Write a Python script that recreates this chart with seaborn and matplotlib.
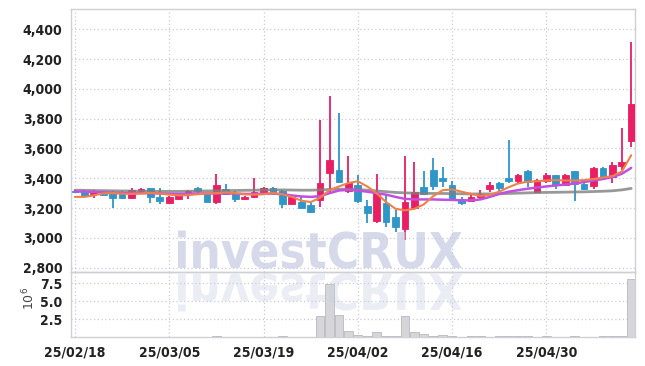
import numpy as np
import pandas as pd
import seaborn as sns
import matplotlib.pyplot as plt
from matplotlib import font_manager
from matplotlib.textpath import TextPath
from matplotlib.patches import PathPatch
from matplotlib.font_manager import FontProperties
from matplotlib.transforms import Affine2D
from matplotlib.ticker import FuncFormatter

# trading days (yy/mm/dd)
dates = ['25/02/18', '25/02/19', '25/02/20', '25/02/21', '25/02/24', '25/02/25', '25/02/26', '25/02/27', '25/02/28', '25/03/04',
         '25/03/05', '25/03/06', '25/03/07', '25/03/10', '25/03/11', '25/03/12', '25/03/13', '25/03/14', '25/03/17', '25/03/18',
         '25/03/19', '25/03/20', '25/03/21', '25/03/24', '25/03/25', '25/03/26', '25/03/27', '25/03/28', '25/03/31', '25/04/01',
         '25/04/02', '25/04/03', '25/04/04', '25/04/07', '25/04/08', '25/04/09', '25/04/10', '25/04/11', '25/04/14', '25/04/15',
         '25/04/16', '25/04/17', '25/04/18', '25/04/21', '25/04/22', '25/04/23', '25/04/24', '25/04/25', '25/04/28', '25/04/29',
         '25/04/30', '25/05/02', '25/05/07', '25/05/08', '25/05/09', '25/05/12', '25/05/13', '25/05/14', '25/05/15', '25/05/16']

open_ = [3312, 3315, 3295, 3306, 3310, 3306, 3270, 3299, 3333, 3273,
         3237, 3259, 3299, 3337, 3293, 3241, 3328, 3299, 3261, 3273,
         3295, 3335, 3315, 3230, 3243, 3221, 3254, 3434, 3456, 3317,
         3355, 3214, 3111, 3232, 3138, 3058, 3199, 3344, 3456, 3400,
         3355, 3259, 3246, 3277, 3328, 3371, 3402, 3384, 3447, 3310,
         3384, 3422, 3355, 3449, 3362, 3350, 3471, 3411, 3483, 3652]
high = [3318, 3318, 3320, 3310, 3312, 3315, 3333, 3335, 3335, 3333,
        3278, 3300, 3318, 3342, 3300, 3429, 3362, 3317, 3282, 3400,
        3342, 3344, 3318, 3278, 3275, 3243, 3791, 3952, 3836, 3550,
        3422, 3254, 3427, 3288, 3187, 3550, 3511, 3451, 3534, 3478,
        3380, 3275, 3285, 3318, 3377, 3377, 3657, 3430, 3455, 3395,
        3435, 3425, 3428, 3452, 3380, 3475, 3475, 3511, 3735, 4317]
low = [3300, 3280, 3266, 3281, 3199, 3262, 3259, 3296, 3236, 3230,
       3232, 3255, 3261, 3300, 3238, 3226, 3288, 3239, 3255, 3270,
       3290, 3285, 3199, 3225, 3200, 3170, 3205, 3310, 3370, 3303,
       3232, 3098, 3100, 3071, 3042, 2985, 3195, 3290, 3322, 3344,
       3250, 3222, 3238, 3255, 3310, 3315, 3370, 3370, 3340, 3305,
       3366, 3328, 3345, 3248, 3318, 3325, 3405, 3366, 3456, 3608]
close = [3308, 3283, 3317, 3290, 3270, 3270, 3322, 3326, 3273, 3250,
         3273, 3293, 3315, 3315, 3241, 3355, 3293, 3261, 3277, 3308,
         3335, 3308, 3230, 3273, 3203, 3172, 3366, 3523, 3377, 3371,
         3250, 3169, 3299, 3109, 3075, 3241, 3306, 3295, 3348, 3384,
         3254, 3232, 3273, 3295, 3355, 3337, 3384, 3422, 3373, 3389,
         3422, 3355, 3422, 3360, 3328, 3471, 3411, 3489, 3507, 3899]

# volume, millions of shares
volume = [0.03, 0.03, 0.03, 0.03, 0.04, 0.03, 0.03, 0.03, 0.04, 0.03,
          0.03, 0.03, 0.03, 0.03, 0.04, 0.12, 0.04, 0.03, 0.03, 0.04,
          0.04, 0.03, 0.09, 0.03, 0.04, 0.05, 2.9, 7.4, 3.0, 0.85,
          0.25, 0.1, 0.7, 0.1, 0.12, 2.9, 0.72, 0.4, 0.12, 0.22,
          0.08, 0.06, 0.08, 0.07, 0.06, 0.07, 0.15, 0.08, 0.07, 0.06,
          0.07, 0.06, 0.06, 0.1, 0.06, 0.06, 0.08, 0.07, 0.2, 8.05]

ma5 = [3275, 3275, 3285, 3298, 3300, 3297, 3295, 3298, 3302, 3298,
       3290, 3285, 3287, 3293, 3297, 3300, 3305, 3300, 3293, 3290,
       3293, 3300, 3293, 3275, 3250, 3240, 3270, 3320, 3345, 3368,
       3380, 3345, 3300, 3240, 3195, 3185, 3195, 3225, 3280, 3320,
       3325, 3310, 3295, 3282, 3288, 3310, 3340, 3365, 3377, 3380,
       3385, 3388, 3385, 3385, 3388, 3395, 3405, 3415, 3445, 3555]
ma20 = [3312, 3310, 3308, 3305, 3303, 3300, 3300, 3300, 3300, 3298,
        3296, 3295, 3296, 3298, 3298, 3298, 3298, 3297, 3295, 3295,
        3296, 3297, 3293, 3285, 3278, 3275, 3280, 3300, 3318, 3322,
        3318, 3310, 3300, 3290, 3275, 3262, 3258, 3258, 3258, 3256,
        3255, 3252, 3252, 3258, 3275, 3295, 3310, 3320, 3330, 3338,
        3345, 3352, 3358, 3365, 3375, 3385, 3395, 3408, 3430, 3470]
ma60 = [3320, 3319, 3318, 3317, 3316, 3315, 3314, 3313, 3312, 3312,
        3312, 3312, 3313, 3314, 3315, 3316, 3317, 3318, 3319, 3320,
        3321, 3322, 3322, 3321, 3320, 3320, 3322, 3325, 3327, 3327,
        3325, 3320, 3315, 3310, 3305, 3302, 3300, 3299, 3298, 3298,
        3297, 3296, 3295, 3295, 3295, 3296, 3298, 3300, 3302, 3304,
        3305, 3306, 3307, 3308, 3309, 3311, 3313, 3316, 3322, 3332]

df = pd.DataFrame({'date': dates, 'open': open_, 'high': high, 'low': low,
                   'close': close, 'volume': volume,
                   'ma5': ma5, 'ma20': ma20, 'ma60': ma60})
df['i'] = np.arange(len(df))

UP = '#e91e63'
DOWN = '#2f96c8'
GRID = '#c9cbdc'

sns.set_style('white')

# pick a narrow face for the tick labels if one is installed
names = {f.name for f in font_manager.fontManager.ttflist}
narrow = [f for f in font_manager.fontManager.ttflist
          if f.name == 'DejaVu Sans' and 'ondensed' in str(f.stretch) + f.fname]
if 'Liberation Sans Narrow' in names:
    tick_kw = dict(family='Liberation Sans Narrow', fontsize=11, fontweight='bold')
elif narrow:
    tick_kw = dict(family='DejaVu Sans', fontstretch='condensed', fontsize=10, fontweight='bold')
else:
    tick_kw = dict(family='Roboto', fontsize=10, fontweight='bold')

fig = plt.figure(figsize=(6.45, 3.66), dpi=100)
W, H = 645, 366
ax = fig.add_axes([71 / W, 1 - 272 / H, (635 - 71) / W, (272 - 9) / H])
ax2 = fig.add_axes([71 / W, 1 - 337 / H, (635 - 71) / W, (337 - 272) / H])

# watermark + reflection
tp = TextPath((0, 0), 'investCRUX', size=1, prop=FontProperties(family='DejaVu Sans', weight='bold'))
bb = tp.get_extents()
sx = 284 / bb.width
sy = 36 / 0.73
x0 = 178 - bb.x0 * sx
fig.add_artist(PathPatch(tp, transform=Affine2D().scale(sx, sy).translate(x0, H - 268),
                         facecolor='#c8cde2', edgecolor='none', alpha=0.75, zorder=0.5))
fig.add_artist(PathPatch(tp, transform=Affine2D().scale(sx, -sy).translate(x0, H - 274),
                         facecolor='#c8cde2', edgecolor='none', alpha=0.35, zorder=0.5))

# candles
colors = np.where(df['close'] >= df['open'], UP, DOWN)
ax.vlines(df['i'], df['low'], df['high'], colors=colors, lw=1.3, zorder=3)
ax.bar(df['i'], (df['close'] - df['open']).abs().clip(lower=3),
       bottom=df[['open', 'close']].min(axis=1), width=0.72,
       color=colors, edgecolor=colors, lw=0.6, zorder=4)

# moving averages
sns.lineplot(x=df['i'], y=df['ma60'], ax=ax, color='#7f7f7f', lw=2.0, alpha=0.8, zorder=5)
sns.lineplot(x=df['i'], y=df['ma20'], ax=ax, color='#c24fe0', lw=1.8, zorder=6)
sns.lineplot(x=df['i'], y=df['ma5'], ax=ax, color='#f0804a', lw=1.5, zorder=7)

# volume
ax2.bar(df['i'], df['volume'], width=0.92, color='#d5d5da', edgecolor='#b8b8c0', lw=0.6, zorder=3)

yt = np.arange(2800, 4401, 200)
ax.set_yticks(yt)
ax.set_ylim(2771, 4536)
ax.yaxis.set_major_formatter(FuncFormatter(lambda v, p: f'{int(v):,}'))
ax2.set_ylim(0, 9.05)
ax2.set_yticks([2.5, 5.0, 7.5])
ax2.yaxis.set_major_formatter(FuncFormatter(lambda v, p: f'{v:.1f}'))

xt = list(range(0, len(dates), 10))
for a in (ax, ax2):
    a.set_xlim(-0.42, 59.4)
    a.set_xticks(xt)
    a.grid(True, color=GRID, ls=(0, (1, 2)), lw=0.9)
    a.set_axisbelow(True)
    a.set_facecolor('none')
    a.tick_params(length=0, pad=6, labelcolor='#222222')
    for s in a.spines.values():
        s.set_color('#cfcfd6')
        s.set_linewidth(1.0)
    a.set_xlabel('')
    a.set_ylabel('')

ax.tick_params(labelbottom=False)
ax2.set_xticklabels([dates[i] for i in xt])

for lab in ax.get_yticklabels() + ax2.get_yticklabels() + ax2.get_xticklabels():
    lab.update(tick_kw)

fig.text(29 / W, 1 - 298 / H, r'$10^6$', rotation=90, ha='center', va='center',
         fontsize=9, color='#444444')

fig.savefig('out.png', dpi=100, facecolor='white')
